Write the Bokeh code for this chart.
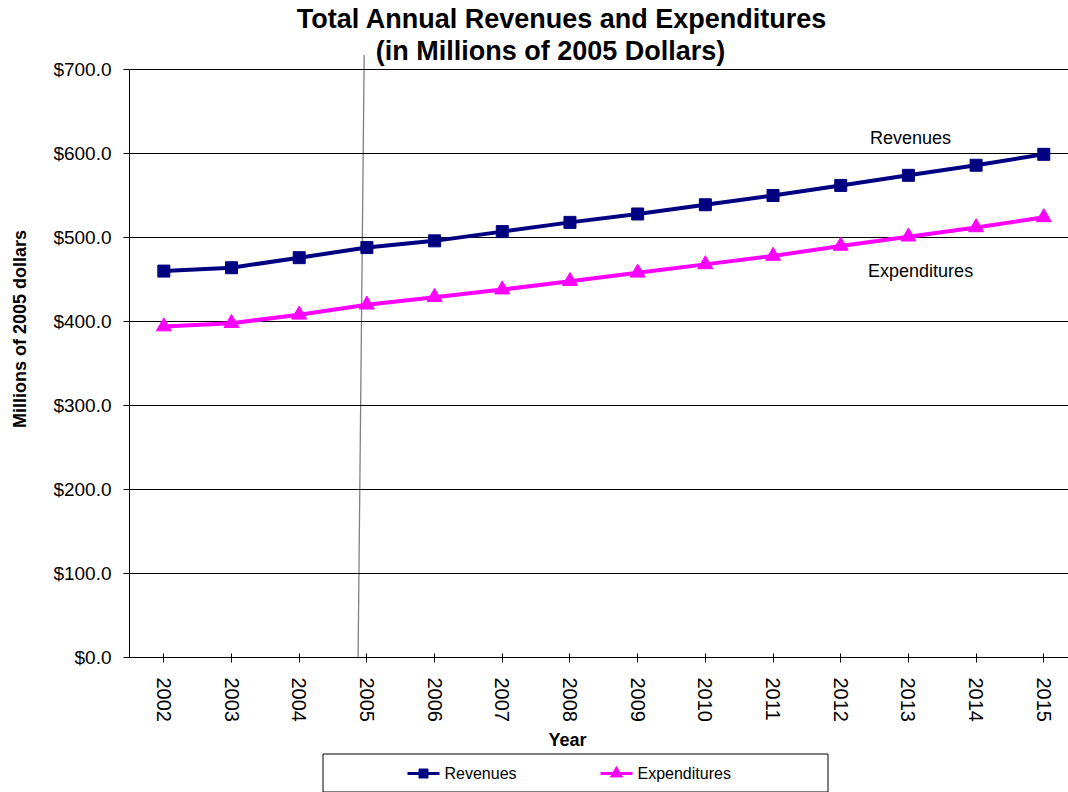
from bokeh.plotting import figure
from bokeh.layouts import column
from bokeh.models import FixedTicker, Range1d
from bokeh.core.properties import value
from bokeh.embed import file_html
from bokeh.resources import INLINE

# ---- data -------------------------------------------------------------
years = [2002, 2003, 2004, 2005, 2006, 2007, 2008, 2009, 2010, 2011, 2012, 2013, 2014, 2015]
revenues = [460, 464, 476, 488, 496, 507, 518, 528, 539, 550, 562, 574, 586, 599]
expenditures = [394, 398, 408, 420, 429, 438, 448, 458, 468, 478, 490, 501, 512, 524]

y_ticks = [0, 100, 200, 300, 400, 500, 600, 700]
y_tick_labels = ["$0.0", "$100.0", "$200.0", "$300.0", "$400.0", "$500.0", "$600.0", "$700.0"]
year_labels = [str(y) for y in years]

series_names = ["Revenues", "Expenditures"]
series_colors = ["#000080", "#FF00FF"]
series_markers = ["square", "triangle"]

title_lines = ["Total Annual Revenues and Expenditures", "(in Millions of 2005 Dollars)"]
x_title = "Year"
y_title = "Millions of 2005 dollars"

FONT = "Liberation Sans"

# ---- main chart -------------------------------------------------------
# The frame runs up to the top edge of the canvas so the two-line title can
# be drawn as text inside it; the value axis itself stops at $700.
p = figure(
    width=1068, height=725,
    x_range=Range1d(2001.493, 2015.365),
    y_range=Range1d(0, 782.14),
    output_backend="svg", toolbar_location=None,
    min_border_left=129, min_border_right=0,
    min_border_top=0, min_border_bottom=68,
)
p.outline_line_color = None
p.background_fill_color = "white"
p.border_fill_color = "white"

# y axis
p.yaxis.ticker = FixedTicker(ticks=y_ticks)
p.yaxis.major_label_overrides = dict(zip(y_ticks, y_tick_labels))
p.yaxis.bounds = (0, 700)
p.yaxis.minor_tick_line_color = None
p.yaxis.major_tick_in = 0
p.yaxis.major_tick_out = 6
p.yaxis.major_label_standoff = 12
p.yaxis.major_label_text_font = FONT
p.yaxis.major_label_text_font_size = "19px"
p.yaxis.major_label_text_color = "black"
p.yaxis.axis_line_color = "black"
p.yaxis.major_tick_line_color = "black"
p.yaxis.axis_label = y_title
p.yaxis.axis_label_text_font = FONT
p.yaxis.axis_label_text_font_style = "bold"
p.yaxis.axis_label_text_font_size = "18px"
p.yaxis.axis_label_text_color = "black"
p.yaxis.axis_label_standoff = 20

# x axis
p.xaxis.ticker = FixedTicker(ticks=years)
p.xaxis.major_label_overrides = dict(zip(years, year_labels))
p.xaxis.major_label_orientation = "vertical"
p.xaxis.minor_tick_line_color = None
p.xaxis.major_tick_in = 4
p.xaxis.major_tick_out = 5
p.xaxis.major_label_standoff = 15
p.xaxis.major_label_text_font = FONT
p.xaxis.major_label_text_font_size = "20px"
p.xaxis.major_label_text_color = "black"
p.xaxis.axis_line_color = "black"
p.xaxis.major_tick_line_color = "black"

# grid
p.xgrid.visible = False
p.ygrid.ticker = FixedTicker(ticks=y_ticks)
p.ygrid.grid_line_color = "black"
p.ygrid.grid_line_width = 1

# dotted divider at the 2005 base year (drawn slightly slanted)
base_year = 2005
p.segment(x0=[base_year - 0.04], y0=[716.7], x1=[base_year - 0.13], y1=[0],
          line_color="black", line_width=1.3, line_dash="1 1")

# series
for name, vals, color, marker in zip(series_names, [revenues, expenditures],
                                     series_colors, series_markers):
    p.line(years, vals, line_color=color, line_width=4)
    p.scatter(years, vals, marker=marker, size=12 if marker == "square" else 15,
              fill_color=color, line_color=color)

# in-chart series labels
p.text(x=[2013.03, 2013.18], y=[617.9, 460.7], text=series_names,
       text_align="center", text_baseline="middle",
       text_font=value(FONT), text_font_size="18px", text_color="black")

# two-line title
p.text(x=[2007.882, 2007.712], y=[760.7, 722.6], text=title_lines,
       text_align="center", text_baseline="middle",
       text_font=value(FONT), text_font_style="bold",
       text_font_size="27px", text_color="black")

# ---- bottom strip: x-axis title and legend box -------------------------
# The strip's frame is aligned with the chart frame above (x from 129 to 1068).
lp = figure(
    width=1068, height=67,
    x_range=Range1d(129, 1068), y_range=Range1d(0, 67),
    output_backend="svg", toolbar_location=None,
    min_border_left=129, min_border_right=0, min_border_top=0, min_border_bottom=0,
    x_axis_type=None, y_axis_type=None,
)
lp.outline_line_color = None
lp.xgrid.visible = False
lp.ygrid.visible = False

lp.text(x=[567], y=[53], text=[x_title], text_align="center", text_baseline="middle",
        text_font=value(FONT), text_font_style="bold", text_font_size="18px",
        text_color="black")

lp.quad(left=[322.5], right=[827.5], bottom=[0.5], top=[38.5],
        fill_color=None, line_color="black", line_width=1)

legend_x = [407, 600]
for name, color, marker, x0 in zip(series_names, series_colors, series_markers, legend_x):
    lp.segment(x0=[x0], y0=[19], x1=[x0 + 32], y1=[19], line_color=color, line_width=3)
    lp.scatter(x=[x0 + 16], y=[19], marker=marker, size=9 if marker == "square" else 12,
               fill_color=color, line_color=color)
    lp.text(x=[x0 + 37], y=[19], text=[name], text_align="left", text_baseline="middle",
            text_font=value(FONT), text_font_size="16px", text_color="black")

layout = column(p, lp, spacing=0)

open("out.html", "w").write(file_html(layout, INLINE))
